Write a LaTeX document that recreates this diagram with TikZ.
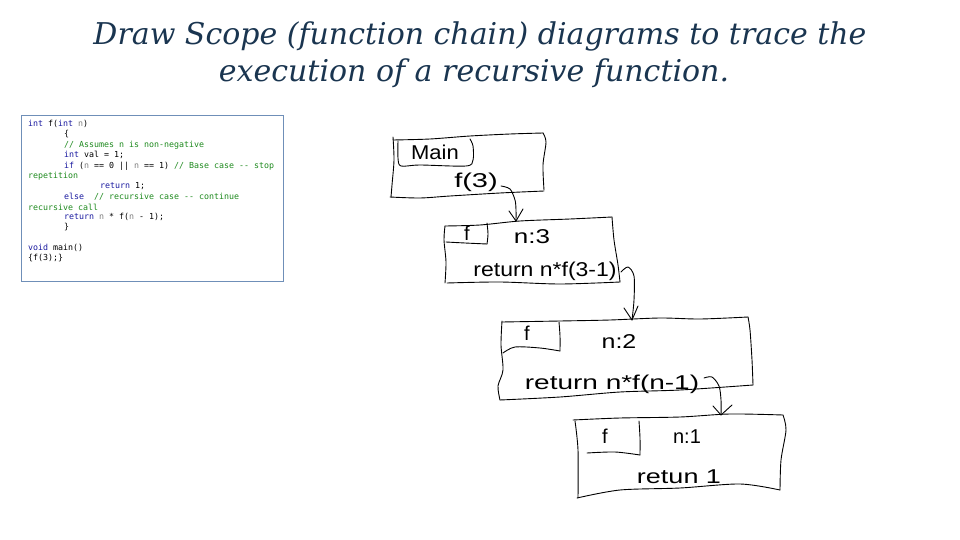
\documentclass[tikz,border=0pt]{standalone}
\usepackage{fontspec}
\setmainfont{Liberation Serif}
\newfontfamily\titlefont{DejaVu Serif}
\newfontfamily\codefont{DejaVu Sans Mono}
\newfontfamily\handfont{Liberation Sans}
\definecolor{titlec}{HTML}{1A3550}
\definecolor{boxc}{HTML}{6F8FB8}
\definecolor{kwc}{HTML}{1A1AA0}
\definecolor{cmc}{HTML}{1E8A1E}
\definecolor{nvc}{HTML}{808080}
\newcommand{\kw}[1]{\textcolor{kwc}{#1}}
\newcommand{\cm}[1]{\textcolor{cmc}{#1}}
\newcommand{\nv}[1]{\textcolor{nvc}{#1}}
\newcommand{\hx}[2]{\scalebox{#1}[1]{#2}}
\tikzset{
  title/.style={font=\titlefont\itshape\fontsize{30}{36}\selectfont, text=titlec, inner sep=0pt},
  codeline/.style={anchor=west, inner sep=0pt, font=\codefont\fontsize{8.3}{10}\selectfont},
  hand/.style={draw=black, line width=0.9pt, line cap=round, line join=round},
  handtext/.style={inner sep=0pt, font=\handfont\fontsize{20}{21}\selectfont}
}
\begin{document}
\begin{tikzpicture}[x=1pt,y=-1pt]
\useasboundingbox[fill=white] (0,0) rectangle (960,540);
% title
\node[title] (t1) at (480,36) {Draw Scope (function chain) diagrams to trace the};
\node[title] (t2) at (474,73) {execution of a recursive function.};
% code box
\node[draw=boxc, line width=1pt, minimum width=262pt, minimum height=166pt, anchor=north west, inner sep=0pt] (code) at (21,115) {};
\node[codeline] (c1) at (28,124) {\kw{int} f(\kw{int} \nv{n})};
\node[codeline] (c2) at (64,134) {\{};
\node[codeline] (c3) at (64,145) {\cm{// Assumes n is non-negative}};
\node[codeline] (c4) at (64,155) {\kw{int} val = 1;};
\node[codeline] (c5) at (64,166) {\kw{if} (\nv{n} == 0 || \nv{n} == 1) \cm{// Base case -{}- stop}};
\node[codeline] (c6) at (28,176) {\cm{repetition}};
\node[codeline] (c7) at (100,186) {\kw{return} 1;};
\node[codeline] (c8) at (64,197) {\kw{else}\ \ \cm{// recursive case -{}- continue}};
\node[codeline] (c9) at (28,207) {\cm{recursive call}};
\node[codeline] (c10) at (64,217) {\kw{return} \nv{n} * f(\nv{n} - 1);};
\node[codeline] (c11) at (64,227) {\}};
\node[codeline] (c12) at (28,248) {\kw{void} main()};
\node[codeline] (c13) at (28,258) {\{f(3);\}};
% ---------- main frame ----------
\draw[hand] plot[smooth] coordinates {(393,140) (430,139) (470,136) (510,134) (543,133)};
\draw[hand] plot[smooth] coordinates {(543,133) (546,142) (543,165) (544,190)};
\draw[hand] plot[smooth] coordinates {(390,197) (420,198) (450,196) (500,193) (544,191)};
\draw[hand] plot[smooth] coordinates {(393,137) (394,160) (392,185) (391,197)};
\draw[hand] plot[smooth] coordinates {(398,141) (398,158) (401,166) (420,165) (466,166) (473,160) (473,146) (470,139)};
\node[handtext] (mainlbl) at (435,152) {\hx{1.1}{Main}};
\node[handtext] (f3) at (476,182) {\hx{1.45}{f(3)}};
\coordinate (a1s) at (501,186);
\coordinate (a1e) at (516,221);
\draw[hand] plot[smooth] coordinates {(a1s) (510,189) (515,200) (516,210) (a1e)};
\draw[hand] (509,211) -- (a1e) -- (523,209);
% ---------- f(3) frame ----------
\draw[hand] plot[smooth] coordinates {(445,226) (480,225) (520,221) (570,219) (612,217)};
\draw[hand] plot[smooth] coordinates {(612,217) (614,240) (618,265) (620,282)};
\draw[hand] plot[smooth] coordinates {(447,283) (500,282) (560,284) (620,282)};
\draw[hand] plot[smooth] coordinates {(445,226) (444,240) (446,262) (445,283)};
\draw[hand] plot[smooth] coordinates {(487,223) (488,234) (487,244)};
\draw[hand] plot[smooth] coordinates {(446,242) (465,243) (487,244)};
\node[handtext] (ff3) at (467,233) {f};
\node[handtext] (n3) at (532,237) {\hx{1.3}{n:3}};
\node[handtext] (r3) at (545,271) {\hx{1.15}{return n*f(3-1)}};
\coordinate (a2s) at (621,272);
\coordinate (a2e) at (632,320);
\draw[hand] plot[smooth] coordinates {(a2s) (628,267) (634,276) (634,300) (a2e)};
\draw[hand] (624,308) -- (a2e) -- (638,306);
% ---------- f(2) frame ----------
\draw[hand] plot[smooth] coordinates {(502,322) (560,321) (610,320) (660,318) (700,319) (748,317)};
\draw[hand] plot[smooth] coordinates {(748,317) (750,330) (752,360) (753,385)};
\draw[hand] plot[smooth] coordinates {(500,400) (560,397) (620,392) (680,390) (753,385)};
\draw[hand] plot[smooth] coordinates {(502,321) (501,345) (503,370) (498,386) (500,400)};
\draw[hand] plot[smooth] coordinates {(559,322) (560,336) (560,351)};
\draw[hand] plot[smooth] coordinates {(503,353) (515,347) (540,348) (560,351)};
\node[handtext] (ff2) at (527,333) {f};
\node[handtext] (n2) at (619,342) {\hx{1.25}{n:2}};
\node[handtext] (r2) at (612,384) {\hx{1.4}{return n*f(n-1)}};
\coordinate (a3s) at (704,378);
\coordinate (a3e) at (721,415);
\draw[hand] plot[smooth] coordinates {(a3s) (712,377) (719,386) (721,400) (a3e)};
\draw[hand] (713,406) -- (a3e) -- (732,405);
% ---------- f(1) frame ----------
\draw[hand] plot[smooth] coordinates {(573,420) (620,418) (680,417) (730,414) (783,415)};
\draw[hand] plot[smooth] coordinates {(783,415) (786,430) (781,460) (780,490)};
\draw[hand] plot[smooth] coordinates {(577,498) (620,490) (680,488) (740,484) (780,490)};
\draw[hand] plot[smooth] coordinates {(575,421) (578,450) (578,498)};
\draw[hand] plot[smooth] coordinates {(639,421) (640,438) (640,455)};
\draw[hand] plot[smooth] coordinates {(587,453) (615,452) (640,455)};
\node[handtext] (ff1) at (605,436) {f};
\node[handtext] (n1) at (687,437) {n:1};
\node[handtext] (r1) at (679,477) {\hx{1.35}{retun 1}};
\end{tikzpicture}
\end{document}
